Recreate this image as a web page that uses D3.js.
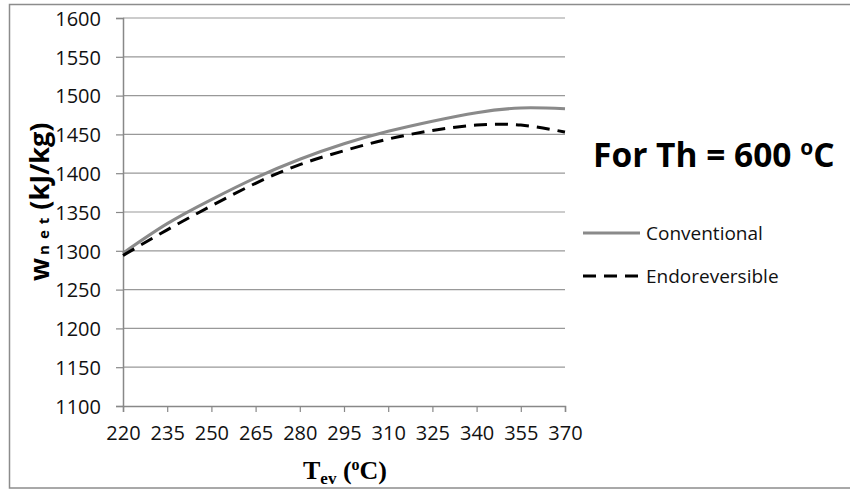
<!DOCTYPE html>
<html>
<head>
<meta charset="utf-8">
<script src="https://cdn.jsdelivr.net/npm/d3@7"></script>
<style>
  body { margin: 0; background: #fff; }
  svg { display: block; }
</style>
</head>
<body>
<svg id="chart" width="850" height="490"></svg>
<script>
// evaporator temperature (degC)
var tev = [220, 235, 250, 265, 280, 295, 310, 325, 340, 355, 370]
// net work (kJ/kg)
var conventional = [1297, 1335, 1366, 1394, 1418, 1438, 1454, 1467, 1478, 1484, 1483]
var endoreversible = [1294, 1327, 1358, 1387, 1411, 1429, 1444, 1455, 1462, 1462, 1453]
var yTicks = [1100, 1150, 1200, 1250, 1300, 1350, 1400, 1450, 1500, 1550, 1600]

var svg = d3.select('#chart')
var font = '"Open Sans", "Noto Sans", sans-serif'

// outer frame
svg.append('rect')
    .attr('x', 9.5).attr('y', 4.5)
    .attr('width', 850).attr('height', 483.5)
    .attr('fill', '#fff')
    .attr('stroke', '#8c8c8c')
    .attr('stroke-width', 1.5)

var x = d3.scaleLinear().domain([220, 370]).range([123, 565])
var y = d3.scaleLinear().domain([1100, 1600]).range([406, 18])

// horizontal grid
svg.append('g')
    .selectAll('line')
    .data(yTicks.slice(1))
    .enter().append('line')
    .attr('x1', 123).attr('x2', 565)
    .attr('y1', d => y(d)).attr('y2', d => y(d))
    .attr('stroke', '#999')
    .attr('stroke-width', 1.2)

// y axis
var yAxis = svg.append('g')
    .attr('transform', 'translate(123,0)')
    .call(d3.axisLeft(y).tickValues(yTicks).tickFormat(d3.format('d')).tickSize(7).tickPadding(15))
yAxis.select('.domain').attr('stroke', '#888').attr('stroke-width', 1.5)
yAxis.selectAll('.tick line').attr('stroke', '#888').attr('stroke-width', 1.2)
yAxis.selectAll('.tick text')
    .attr('font-family', font)
    .attr('font-size', 20)
    .attr('fill', '#111')
    .attr('dy', '0.36em')

// x axis
var xAxis = svg.append('g')
    .attr('transform', 'translate(0,406)')
    .call(d3.axisBottom(x).tickValues(tev).tickFormat(d3.format('d')).tickSize(6).tickPadding(14))
xAxis.select('.domain').attr('stroke', '#888').attr('stroke-width', 1.5)
xAxis.selectAll('.tick line').attr('stroke', '#888').attr('stroke-width', 1.2)
xAxis.selectAll('.tick text')
    .attr('font-family', font)
    .attr('font-size', 20)
    .attr('fill', '#111')

// series
var line = d3.line()
    .x(d => x(d[0]))
    .y(d => y(d[1]))
    .curve(d3.curveNatural)

svg.append('path')
    .attr('d', line(d3.zip(tev, conventional)))
    .attr('fill', 'none')
    .attr('stroke', '#8a8a8a')
    .attr('stroke-width', 3)

svg.append('path')
    .attr('d', line(d3.zip(tev, endoreversible)))
    .attr('fill', 'none')
    .attr('stroke', '#000')
    .attr('stroke-width', 3)
    .attr('stroke-dasharray', '13,8')

// y title
var yt = svg.append('text')
    .attr('transform', 'translate(49,281) rotate(-90)')
    .attr('font-family', font)
    .attr('font-weight', 'bold')
    .attr('font-size', 27)
    .attr('fill', '#000')
yt.append('tspan').text('w')
yt.append('tspan').attr('font-size', 15).attr('letter-spacing', 6).attr('dx', 3).text('net')
yt.append('tspan').attr('dx', 2).text('(kJ/kg)')

// x title
var xt = svg.append('text')
    .attr('x', 345).attr('y', 479)
    .attr('text-anchor', 'middle')
    .attr('font-family', '"Liberation Serif", "Times New Roman", serif')
    .attr('font-weight', 'bold')
    .attr('font-size', 26)
    .attr('fill', '#000')
xt.append('tspan').text('T')
xt.append('tspan').attr('font-size', 17).attr('dy', 5).text('ev')
xt.append('tspan').attr('dy', -5).text(' (')
xt.append('tspan').attr('font-size', 16).attr('dy', -9).text('o')
xt.append('tspan').attr('dy', 9).text('C)')

// annotation
var note = svg.append('text')
    .attr('x', 593).attr('y', 167)
    .attr('font-family', font)
    .attr('font-weight', 'bold')
    .attr('font-size', 33.5)
    .attr('fill', '#000')
note.append('tspan').text('For Th = 600 ')
note.append('tspan').attr('font-size', 21).attr('dy', -12).text('o')
note.append('tspan').attr('dy', 12).text('C')

// legend
var legendItems = [
    {name: 'Conventional', color: '#8a8a8a', dash: null, y: 233},
    {name: 'Endoreversible', color: '#000', dash: '13,8', y: 276}
]
var lg = svg.append('g').selectAll('g')
    .data(legendItems)
    .enter().append('g')
lg.append('line')
    .attr('x1', 583).attr('x2', 640)
    .attr('y1', d => d.y).attr('y2', d => d.y)
    .attr('stroke', d => d.color)
    .attr('stroke-width', 3)
    .attr('stroke-dasharray', d => d.dash)
lg.append('text')
    .attr('x', 646).attr('y', d => d.y)
    .attr('dy', '0.36em')
    .attr('font-family', font)
    .attr('font-size', 19)
    .attr('fill', '#111')
    .text(d => d.name)
</script>
</body>
</html>
